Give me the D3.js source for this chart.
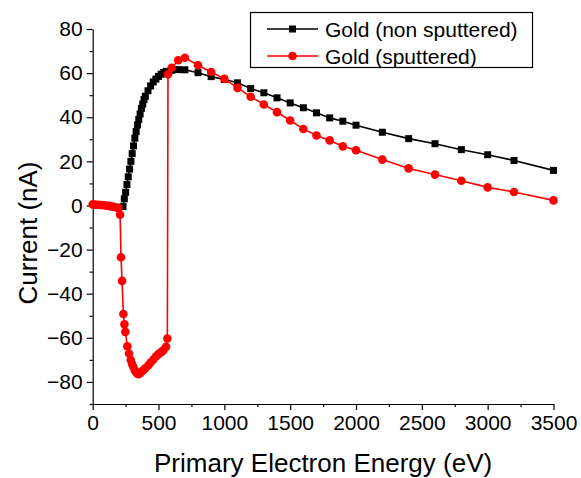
<!DOCTYPE html>
<html>
<head>
<meta charset="utf-8">
<script src="https://cdn.jsdelivr.net/npm/d3@7"></script>
<style>
  body { margin: 0; background: #fff; }
  svg text { font-family: "Liberation Sans", Arial, sans-serif; }
</style>
</head>
<body>
<svg id="chart" width="581" height="478"></svg>
<script>
// energy (eV) and current (nA)
var goldEnergy = [230, 240, 250, 260, 270, 280, 290, 300, 310, 320, 330, 340, 350, 360, 370, 380, 390, 400,
  420, 440, 460, 480, 500, 520, 540, 560, 600, 650, 700, 800, 900, 1000, 1100, 1200, 1300, 1400, 1500,
  1600, 1700, 1800, 1900, 2000, 2200, 2400, 2600, 2800, 3000, 3200, 3500];
var goldCurrent = [-0.5, 3, 6, 9.5, 13, 16.5, 20, 23.5, 27, 30.5, 33.5, 36.5, 39, 41.5, 44, 46, 48, 49.5,
  52, 54.2, 56, 57.3, 58.5, 59.5, 60.3, 60.8, 61.3, 61.6, 61.5, 60.2, 58.4, 57.1, 55.6, 53, 51.1, 48.8, 46.5,
  44.3, 42, 39.7, 38.2, 36.4, 33.2, 30.3, 28, 25.3, 23, 20.4, 15.9];

var sputEnergy = [0, 20, 40, 60, 80, 100, 120, 140, 160, 180, 195, 208, 215, 223, 233, 241, 248, 263, 276,
  289, 300, 309, 320, 329, 338, 347, 360, 372, 385, 400, 423, 440, 461, 480, 499, 520, 537, 557, 567,
  572, 600, 650, 700, 800, 900, 1000, 1100, 1200, 1300, 1400, 1500, 1600, 1700, 1800, 1900, 2000,
  2200, 2400, 2600, 2800, 3000, 3200, 3500];
var sputCurrent = [0.5, 0.4, 0.3, 0.2, 0.1, 0, -0.2, -0.4, -0.6, -0.9, -1.2, -4.2, -23.5, -34.2, -49.2, -53.9, -57.3, -63.8, -67.1,
  -70.1, -72, -73.2, -74.8, -75.5, -76.2, -76.5, -76, -75.3, -74.7, -73.8, -72.4, -71.2, -69.8, -68.5, -67.4, -66.5, -65.6, -64.1, -60.3,
  59.5, 62.4, 65.8, 67, 63.6, 60.5, 57.4, 53.3, 49.3, 45.8, 42.3, 38.5, 34.7, 31.7, 29.5, 26.8, 25,
  20.8, 16.8, 14, 11.2, 8.2, 6.1, 2.3];

var seriesNames = ["Gold (non sputtered)", "Gold (sputtered)"];
var xTicks = [0, 500, 1000, 1500, 2000, 2500, 3000, 3500];
var yTicks = [-80, -60, -40, -20, 0, 20, 40, 60, 80];

(function() {
  var svg = d3.select("#chart");
  var mLeft = 92.7, mRight = 553.5, mTop = 29, mBottom = 404;

  var x = d3.scaleLinear().domain([0, 3500]).range([mLeft, mRight]);
  var y = d3.scaleLinear().domain([-90, 80]).range([mBottom, mTop]);

  var fontSize = 21;

  // minor ticks first, then majors with labels
  svg.append("g")
      .attr("transform", "translate(0," + mBottom + ")")
      .call(d3.axisBottom(x).tickValues(d3.range(250, 3500, 500)).tickSize(3).tickFormat(""))
      .call(function(g) { g.select(".domain").remove(); });
  svg.append("g")
      .attr("transform", "translate(" + mLeft + ",0)")
      .call(d3.axisLeft(y).tickValues(d3.range(-90, 80, 20)).tickSize(3).tickFormat(""))
      .call(function(g) { g.select(".domain").remove(); });

  var xAxis = svg.append("g")
      .attr("transform", "translate(0," + mBottom + ")")
      .call(d3.axisBottom(x).tickValues(xTicks).tickSize(6).tickSizeOuter(0).tickPadding(5).tickFormat(d3.format("d")));
  var yAxis = svg.append("g")
      .attr("transform", "translate(" + mLeft + ",0)")
      .call(d3.axisLeft(y).tickValues(yTicks).tickSize(6).tickSizeOuter(0).tickPadding(4).tickFormat(d3.format("d")));

  [xAxis, yAxis].forEach(function(a) {
    a.selectAll("text").style("font-size", fontSize + "px").attr("fill", "#000");
    a.select(".domain").attr("stroke", "#000").attr("stroke-width", 1.2);
  });
  svg.selectAll("g line").attr("stroke", "#000").attr("stroke-width", 1.2);

  // axis titles
  svg.append("text")
      .attr("x", (mLeft + mRight) / 2).attr("y", 472)
      .attr("text-anchor", "middle")
      .style("font-size", "26px")
      .text("Primary Electron Energy (eV)");
  svg.append("text")
      .attr("transform", "translate(37,233) rotate(-90)")
      .attr("text-anchor", "middle")
      .style("font-size", "26px")
      .text("Current (nA)");

  var line = d3.line().x(function(d) { return x(d[0]); }).y(function(d) { return y(d[1]); });

  var gold = d3.zip(goldEnergy, goldCurrent);
  var sput = d3.zip(sputEnergy, sputCurrent);

  // black series with square markers
  svg.append("path").datum(gold)
      .attr("d", line).attr("fill", "none").attr("stroke", "#000").attr("stroke-width", 1.6);
  svg.selectAll(".sq").data(gold).enter().append("rect")
      .attr("x", function(d) { return x(d[0]) - 3.5; })
      .attr("y", function(d) { return y(d[1]) - 3.5; })
      .attr("width", 7).attr("height", 7)
      .attr("fill", "#000");

  // red series with round markers
  svg.append("path").datum(sput)
      .attr("d", line).attr("fill", "none").attr("stroke", "#ff0000").attr("stroke-width", 1.6);
  svg.selectAll(".dot").data(sput).enter().append("circle")
      .attr("cx", function(d) { return x(d[0]); })
      .attr("cy", function(d) { return y(d[1]); })
      .attr("r", 4.3)
      .attr("fill", "#ff0000");

  // legend
  var legend = svg.append("g");
  legend.append("rect")
      .attr("x", 250.5).attr("y", 12.5).attr("width", 282).attr("height", 55)
      .attr("fill", "#fff").attr("stroke", "#000").attr("stroke-width", 1.2);
  var colors = ["#000", "#ff0000"];
  seriesNames.forEach(function(name, i) {
    var ly = 29 + i * 27;
    legend.append("line")
        .attr("x1", 267).attr("x2", 318).attr("y1", ly).attr("y2", ly)
        .attr("stroke", colors[i]).attr("stroke-width", 1.6);
    if (i === 0) {
      legend.append("rect").attr("x", 289).attr("y", ly - 3.5).attr("width", 7).attr("height", 7).attr("fill", colors[i]);
    } else {
      legend.append("circle").attr("cx", 292.5).attr("cy", ly).attr("r", 4.3).attr("fill", colors[i]);
    }
    legend.append("text")
        .attr("x", 325).attr("y", ly + 7.5)
        .style("font-size", fontSize + "px")
        .text(name);
  });
})();
</script>
</body>
</html>
